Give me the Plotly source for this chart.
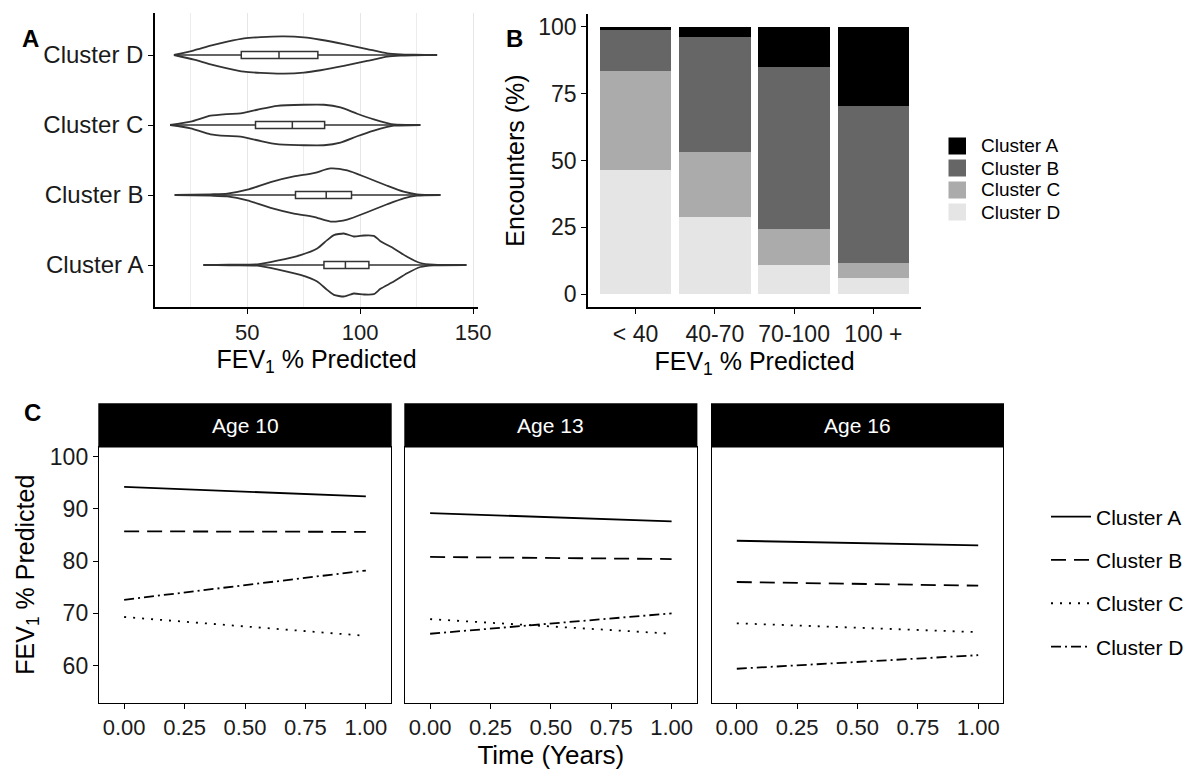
import plotly.graph_objects as go

W, H = 1197, 773
FONT = "Liberation Sans, Arial, sans-serif"

# ---------------- Panel A data ----------------
clusters = ["Cluster A", "Cluster B", "Cluster C", "Cluster D"]
cluster_pos = [1, 2, 3, 4]

# violin outlines: FEV1 value and relative density (half width)
violin_A_fev = [30.6, 42.0, 54.5, 63.3, 73.6, 81.0, 85.4, 88.4, 92.8, 97.2, 101.7, 106.1, 109.0, 114.9, 120.8, 126.7, 132.6, 147.1]
violin_A_dens = [0, 1, 2, 13, 30, 50, 75, 90, 95, 86, 89, 88, 72, 50, 25, 6, 1, 0]
violin_B_fev = [17.9, 33.8, 41.2, 50.1, 60.4, 70.7, 79.5, 86.9, 94.3, 103.1, 112.0, 119.3, 125.2, 135.6]
violin_B_dens = [0, 2, 4, 16, 39, 56, 66, 80, 74, 52, 28, 10, 2, 0]
violin_C_fev = [15.9, 25.0, 33.8, 41.2, 47.1, 54.5, 63.3, 75.1, 84.0, 91.3, 98.7, 106.1, 112.0, 114.9, 126.7]
violin_C_dens = [0, 10, 28, 33, 35, 46, 58, 61, 61, 53, 34, 17, 6, 2, 0]
violin_D_fev = [17.6, 26.5, 33.8, 41.2, 48.6, 56.0, 66.3, 75.1, 82.5, 92.8, 103.1, 112.0, 117.9, 123.8, 134.1]
violin_D_dens = [0, 14, 28, 40, 50, 54, 56, 53, 46, 33, 18, 5, 2, 1, 0]

box_q1 = [84.0, 71.4, 53.7, 47.4]
box_median = [93.5, 85.0, 70.0, 64.1]
box_q3 = [103.9, 96.2, 84.3, 81.3]
box_low = [30.6, 17.9, 15.9, 17.6]
box_high = [147.1, 135.6, 126.7, 134.1]

# ---------------- Panel B data ----------------
fev_bins = ["< 40", "40-70", "70-100", "100 +"]
pct_A = [1.0, 3.6, 15.0, 29.6]
pct_B = [15.5, 43.3, 60.8, 58.9]
pct_C = [37.0, 24.4, 13.3, 5.4]
pct_D = [46.5, 28.7, 10.9, 6.1]
fill_colors = {"Cluster A": "#000000", "Cluster B": "#666666",
               "Cluster C": "#ababab", "Cluster D": "#e5e5e5"}

# ---------------- Panel C data ----------------
ages = ["Age 10", "Age 13", "Age 16"]
time_years = [0.0, 1.0]
start_A = [94.2, 89.2, 83.9]
end_A = [92.4, 87.6, 83.0]
start_B = [85.7, 80.8, 76.0]
end_B = [85.6, 80.4, 75.3]
start_C = [69.3, 68.9, 68.1]
end_C = [65.7, 66.1, 66.4]
start_D = [72.6, 66.1, 59.4]
end_D = [78.2, 70.0, 62.0]

line_dash = {"Cluster A": "solid", "Cluster B": "15px,8px",
             "Cluster C": "2px,7px", "Cluster D": "10px,4px,2px,4px"}


def px_x(x0, x1):
    return [x0 / W, x1 / W]


def px_y(top, bottom):
    return [1 - bottom / H, 1 - top / H]


fig = go.Figure()

# ---- Panel A: violins (white filled outlines) + boxes on an overlaid subplot
violins = [(violin_A_fev, violin_A_dens), (violin_B_fev, violin_B_dens),
           (violin_C_fev, violin_C_dens), (violin_D_fev, violin_D_dens)]
dmax = max(max(d) for _, d in violins)
for pos, (fv, dn) in zip(cluster_pos, violins):
    hw = [0.45 * d / dmax for d in dn]
    xs = list(fv) + list(reversed(fv)) + [fv[0]]
    ys = [pos + h for h in hw] + [pos - h for h in reversed(hw)] + [pos]
    fig.add_trace(go.Scatter(x=xs, y=ys, mode="lines", fill="toself",
                             fillcolor="white",
                             line=dict(color="#333333", width=1.8, shape="spline", smoothing=0.6),
                             xaxis="x", yaxis="y", showlegend=False, hoverinfo="skip"))

fig.add_trace(go.Box(y=cluster_pos, q1=box_q1, median=box_median, q3=box_q3,
                     lowerfence=box_low, upperfence=box_high, orientation="h",
                     width=0.1, whiskerwidth=0, fillcolor="white",
                     line=dict(color="#333333", width=1.5), boxpoints=False,
                     xaxis="x6", yaxis="y6", showlegend=False))

# ---- Panel B: stacked bars (bottom to top: D, C, B, A)
for name, vals in [("Cluster D", pct_D), ("Cluster C", pct_C),
                   ("Cluster B", pct_B), ("Cluster A", pct_A)]:
    fig.add_trace(go.Bar(x=fev_bins, y=vals, name=name,
                         marker=dict(color=fill_colors[name], line=dict(width=0)),
                         xaxis="x2", yaxis="y2", showlegend=False))

# ---- Panel C: lines per facet
series_C = [("Cluster A", start_A, end_A), ("Cluster B", start_B, end_B),
            ("Cluster C", start_C, end_C), ("Cluster D", start_D, end_D)]
facet_axes = [("x3", "y3"), ("x4", "y4"), ("x5", "y5")]
for i, (xa, ya) in enumerate(facet_axes):
    for name, st, en in series_C:
        fig.add_trace(go.Scatter(x=time_years, y=[st[i], en[i]], mode="lines",
                                 name=name, legendgroup=name, legend="legend2",
                                 line=dict(color="black", width=1.8, dash=line_dash[name]),
                                 xaxis=xa, yaxis=ya, showlegend=(i == 0)))

tickfont = dict(family=FONT, size=22, color="#1a1a1a")
titlefont = dict(family=FONT, size=25, color="black")

A_xrange = [9.2, 152.2]
A_yrange = [0.4, 4.6]

layout = dict(
    width=W, height=H, margin=dict(l=0, r=0, t=0, b=0),
    paper_bgcolor="white", plot_bgcolor="white",
    font=dict(family=FONT, color="black"),
    barmode="stack", bargap=0.1, boxmode="overlay",
    xaxis=dict(domain=px_x(155, 478), anchor="y", range=A_xrange,
               tickvals=[50, 100, 150], showgrid=True, gridcolor="#e6e6e6", gridwidth=1.2,
               minor=dict(tickvals=[25, 75, 125], showgrid=True, gridcolor="#ececec", gridwidth=1, ticklen=0),
               showline=True, linecolor="black", linewidth=1.6, zeroline=False,
               ticks="outside", ticklen=5, tickcolor="black", tickfont=tickfont,
               title=dict(text="FEV<sub>1</sub> % Predicted", font=titlefont, standoff=3),
               automargin=False),
    yaxis=dict(domain=px_y(13, 307), anchor="x", range=A_yrange,
               tickvals=cluster_pos, ticktext=clusters, showgrid=False,
               showline=True, linecolor="black", linewidth=1.6, zeroline=False,
               ticks="outside", ticklen=5, tickcolor="black",
               tickfont=dict(family=FONT, size=24, color="#1a1a1a"), automargin=False),
    xaxis6=dict(overlaying="x", anchor="y6", range=A_xrange, visible=False, automargin=False),
    yaxis6=dict(overlaying="y", anchor="x6", range=A_yrange, visible=False, automargin=False),
    xaxis2=dict(domain=px_x(588, 921), anchor="y2", type="category", range=[-0.6, 3.6],
                showline=True, linecolor="black", linewidth=1.6, showgrid=False,
                ticks="outside", ticklen=5, tickcolor="black",
                tickfont=dict(family=FONT, size=23, color="#1a1a1a"),
                title=dict(text="FEV<sub>1</sub> % Predicted", font=titlefont, standoff=1),
                automargin=False),
    yaxis2=dict(domain=px_y(13.6, 307.4), anchor="x2", range=[-5, 105],
                tickvals=[0, 25, 50, 75, 100], showgrid=False, zeroline=False,
                showline=True, linecolor="black", linewidth=1.6,
                ticks="outside", ticklen=5, tickcolor="black",
                tickfont=dict(family=FONT, size=23, color="#1a1a1a"),
                title=dict(text="Encounters (%)", font=titlefont, standoff=6),
                automargin=False),
)

c_x_domains = [px_x(99, 391), px_x(405, 696.7), px_x(711.7, 1003.3)]
c_y_domain = px_y(446.7, 702.7)
for i, (xa, ya) in enumerate(facet_axes):
    xk = "xaxis" + xa[1:]
    yk = "yaxis" + ya[1:]
    layout[xk] = dict(domain=c_x_domains[i], anchor=ya, range=[-0.104, 1.104],
                      tickvals=[0, 0.25, 0.5, 0.75, 1.0], tickformat=".2f",
                      showgrid=False, zeroline=False, showline=True, mirror=True,
                      linecolor="black", linewidth=1.4, ticks="outside", ticklen=5,
                      tickcolor="black", tickfont=tickfont, automargin=False)
    layout[yk] = dict(domain=c_y_domain, anchor=xa, range=[52.9, 101.9],
                      tickvals=[60, 70, 80, 90, 100], showgrid=False, zeroline=False,
                      showline=True, mirror=True, linecolor="black", linewidth=1.4,
                      ticks="outside" if i == 0 else "", ticklen=5, tickcolor="black",
                      showticklabels=(i == 0), tickfont=dict(family=FONT, size=23, color="#1a1a1a"),
                      automargin=False)
layout["xaxis4"]["title"] = dict(text="Time (Years)", font=dict(family=FONT, size=26, color="black"), standoff=0)
layout["yaxis3"]["title"] = dict(text="FEV<sub>1</sub> % Predicted", font=titlefont, standoff=8)

layout["legend2"] = dict(x=1046 / W, xanchor="left", y=1 - 582 / H, yanchor="middle",
                         font=dict(family=FONT, size=21, color="black"),
                         tracegroupgap=13, bgcolor="rgba(0,0,0,0)", itemwidth=40)

fig.update_layout(**layout)

# strips for facets
shapes = []
annotations = []
for i, (xa, ya) in enumerate(facet_axes):
    shapes.append(dict(type="rect", xref=xa + " domain", yref="paper",
                       x0=0, x1=1, y0=1 - 446.7 / H, y1=1 - 404 / H,
                       fillcolor="black", line=dict(color="black", width=1.4), layer="above"))
    annotations.append(dict(text=ages[i], xref=xa + " domain", yref="paper",
                            x=0.5, y=1 - 425.5 / H, showarrow=False,
                            font=dict(family=FONT, size=21, color="white")))

# manual legend for panel B (key squares + labels)
legend_rows_y = [146.0, 168.0, 190.0, 212.0]
for name, yc in zip(clusters, legend_rows_y):
    shapes.append(dict(type="rect", xref="paper", yref="paper",
                       x0=948.5 / W, x1=966 / W, y0=1 - (yc + 8.5) / H, y1=1 - (yc - 8.5) / H,
                       fillcolor=fill_colors[name], line=dict(width=0)))
    annotations.append(dict(text=name, xref="paper", yref="paper", x=979 / W, y=1 - yc / H,
                            xanchor="left", yanchor="middle", showarrow=False,
                            font=dict(family=FONT, size=19, color="black")))

# panel labels
for lab, xx, yy in [("A", 20, 23), ("B", 514, 23), ("C", 22, 412)]:
    annotations.append(dict(text="<b>" + lab + "</b>", xref="paper", yref="paper",
                            x=xx / W, y=1 - yy / H, showarrow=False,
                            font=dict(family=FONT, size=24, color="black")))

fig.update_layout(shapes=shapes, annotations=annotations)
fig.write_html("out.html")
